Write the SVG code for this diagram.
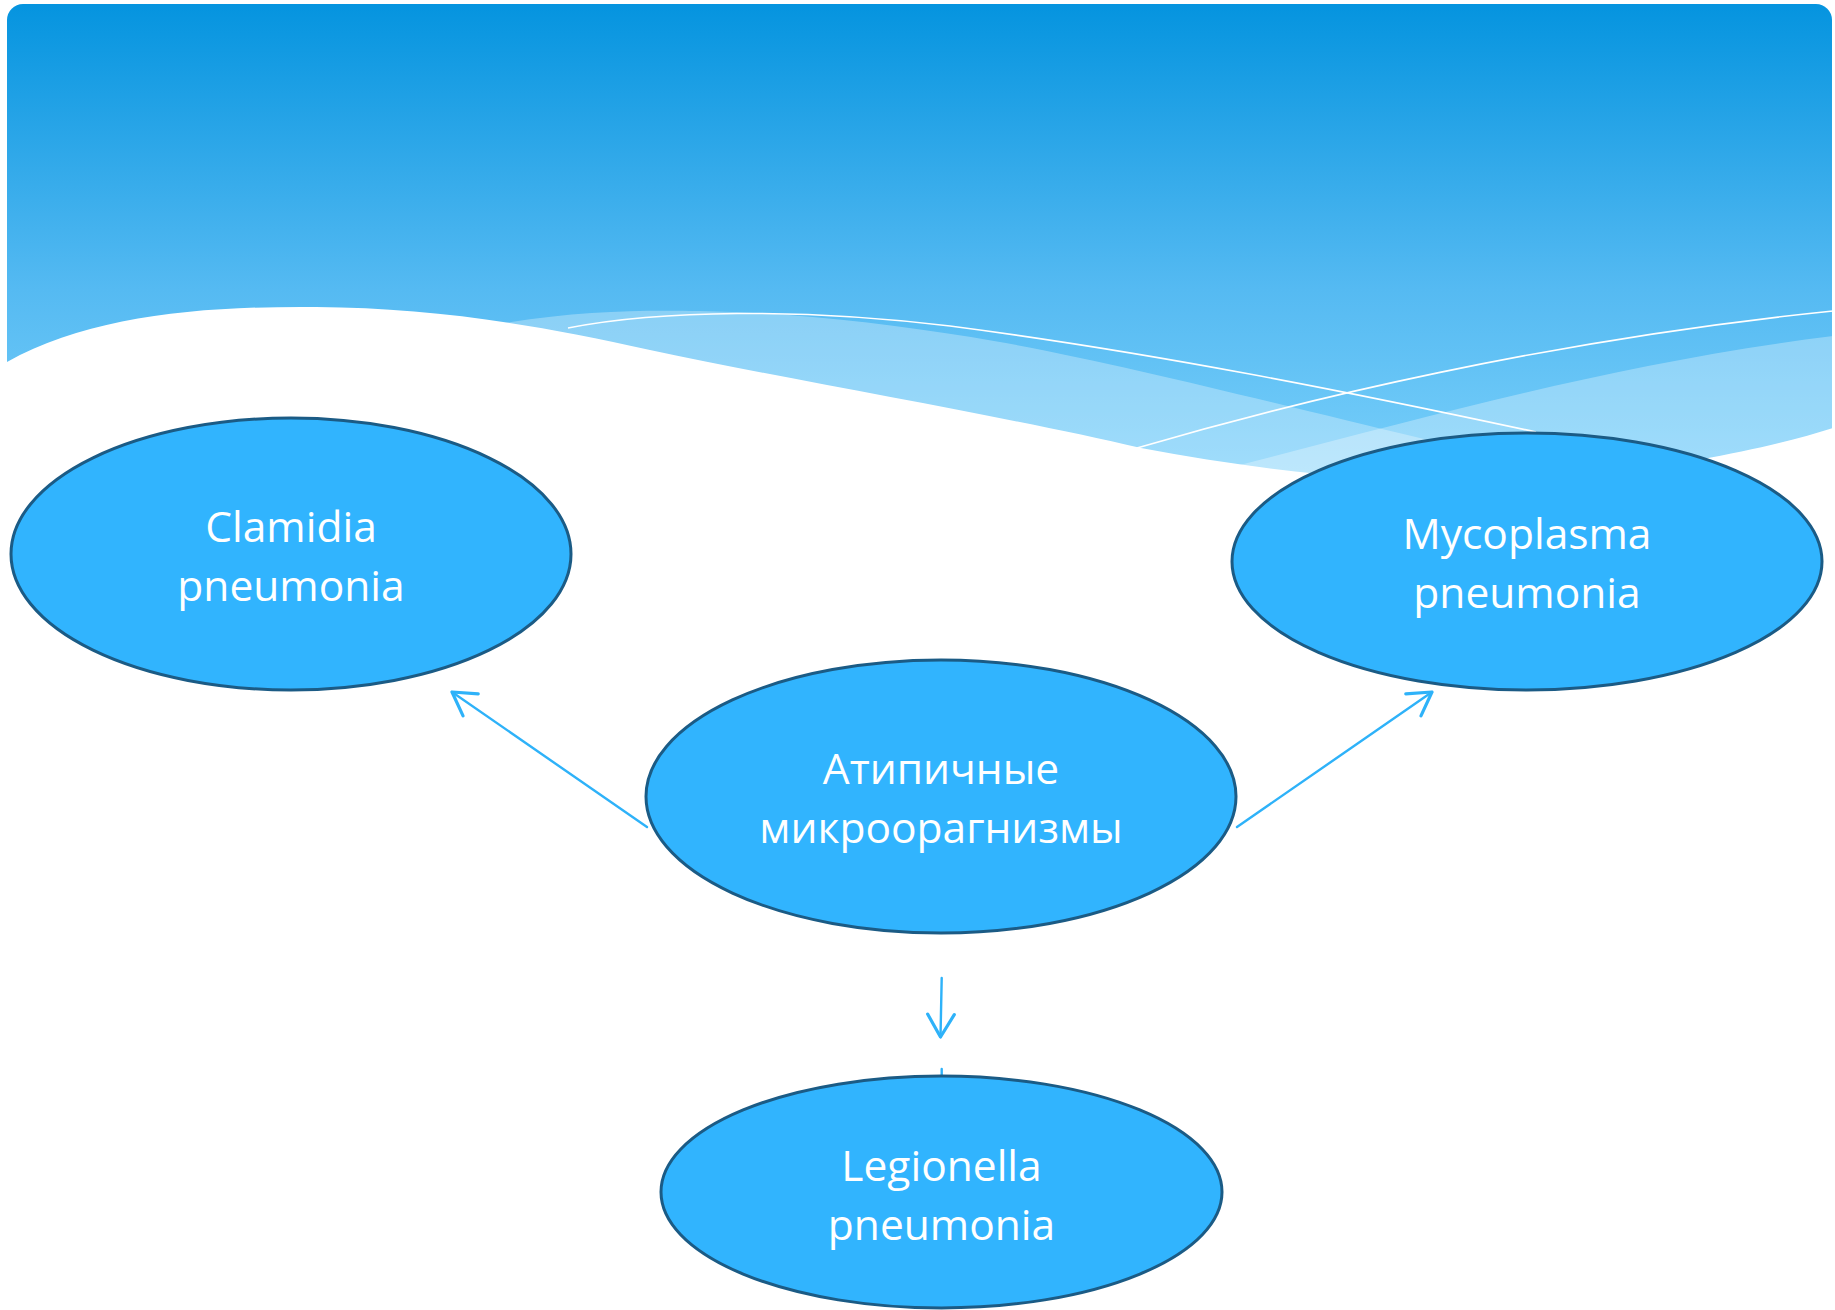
<svg xmlns="http://www.w3.org/2000/svg" width="1835" height="1310" viewBox="0 0 1835 1310">
  <defs>
    <linearGradient id="hdr" x1="0" y1="4" x2="0" y2="480" gradientUnits="userSpaceOnUse">
      <stop offset="0" stop-color="#0594DF"/>
      <stop offset="0.6" stop-color="#55BAF2"/>
      <stop offset="1" stop-color="#78CFFA"/>
    </linearGradient>
    <marker id="arr" markerUnits="userSpaceOnUse" markerWidth="40" markerHeight="40" viewBox="-20 -15 25 30" refX="0" refY="0" orient="auto" overflow="visible">
      <path d="M -17,-10 L 0,0 L -17,10" fill="none" stroke="#2EB2F9" stroke-width="2.4" stroke-linecap="round" stroke-linejoin="round"/>
    </marker>
  </defs>
  <style>
    .node ellipse { fill: #31B4FE; stroke: #1B5B85; stroke-width: 3; }
    .node text { font-family: "Open Sans", "Noto Sans", "DejaVu Sans", sans-serif; font-size: 42.5px; fill: #FFFFFF; text-anchor: middle; }
    .conn { stroke: #2EB2F9; stroke-width: 2.4; fill: none; stroke-linecap: round; }
    .wline { stroke: #FFFFFF; stroke-width: 1.6; fill: none; }
    .band { fill: #FFFFFF; opacity: 0.3; }
  </style>
  <rect width="1835" height="1310" fill="#FFFFFF"/>
  <g id="header">
    <rect x="7" y="4" width="1825" height="500" rx="16" ry="16" fill="url(#hdr)"/>
    <path class="band" d="M 470,330 C 560,310 640,310 700,311 C 800,313 880,323 971,337 C 1100,358 1280,405 1420,438 C 1550,468 1650,478 1760,470 L 1760,520 L 470,520 Z"/>
    <path class="band" d="M 1200,475 C 1400,425 1600,365 1833,336 L 1833,520 L 1200,520 Z"/>
    <path d="M 7,362 C 90,316 200,306 316,307 C 430,308 530,323 650,350 C 800,382 1000,415 1141,448 C 1300,478 1450,490 1600,475 C 1700,462 1780,445 1833,428 L 1833,530 L 7,530 Z" fill="#FFFFFF"/>
    <path class="wline" d="M 568,328 C 660,310 800,308 950,326 C 1150,352 1350,392 1536,432"/>
    <path class="wline" d="M 1137,448 C 1300,400 1550,340 1833,311"/>
  </g>
  <g id="connectors">
    <line class="conn" x1="647" y1="827" x2="452" y2="692" marker-end="url(#arr)"/>
    <line class="conn" x1="1237" y1="827" x2="1432" y2="692" marker-end="url(#arr)"/>
    <line class="conn" x1="941.7" y1="978" x2="940.5" y2="1037" marker-end="url(#arr)"/>
    <line class="conn" x1="941.7" y1="1069" x2="941.7" y2="1076"/>
  </g>
  <g id="node-clamidia" class="node">
    <ellipse cx="291" cy="554" rx="280" ry="136"/>
    <text x="291" y="542">Clamidia</text>
    <text x="291" y="601">pneumonia</text>
  </g>
  <g id="node-mycoplasma" class="node">
    <ellipse cx="1527" cy="561.5" rx="295" ry="128.5"/>
    <text x="1527" y="549">Mycoplasma</text>
    <text x="1527" y="608">pneumonia</text>
  </g>
  <g id="node-center" class="node">
    <ellipse cx="941" cy="796.5" rx="295" ry="136.5"/>
    <text x="941" y="784">Атипичные</text>
    <text x="941" y="843">микроорагнизмы</text>
  </g>
  <g id="node-legionella" class="node">
    <ellipse cx="941.5" cy="1192" rx="280.5" ry="116"/>
    <text x="941.5" y="1181">Legionella</text>
    <text x="941.5" y="1240">pneumonia</text>
  </g>
</svg>
